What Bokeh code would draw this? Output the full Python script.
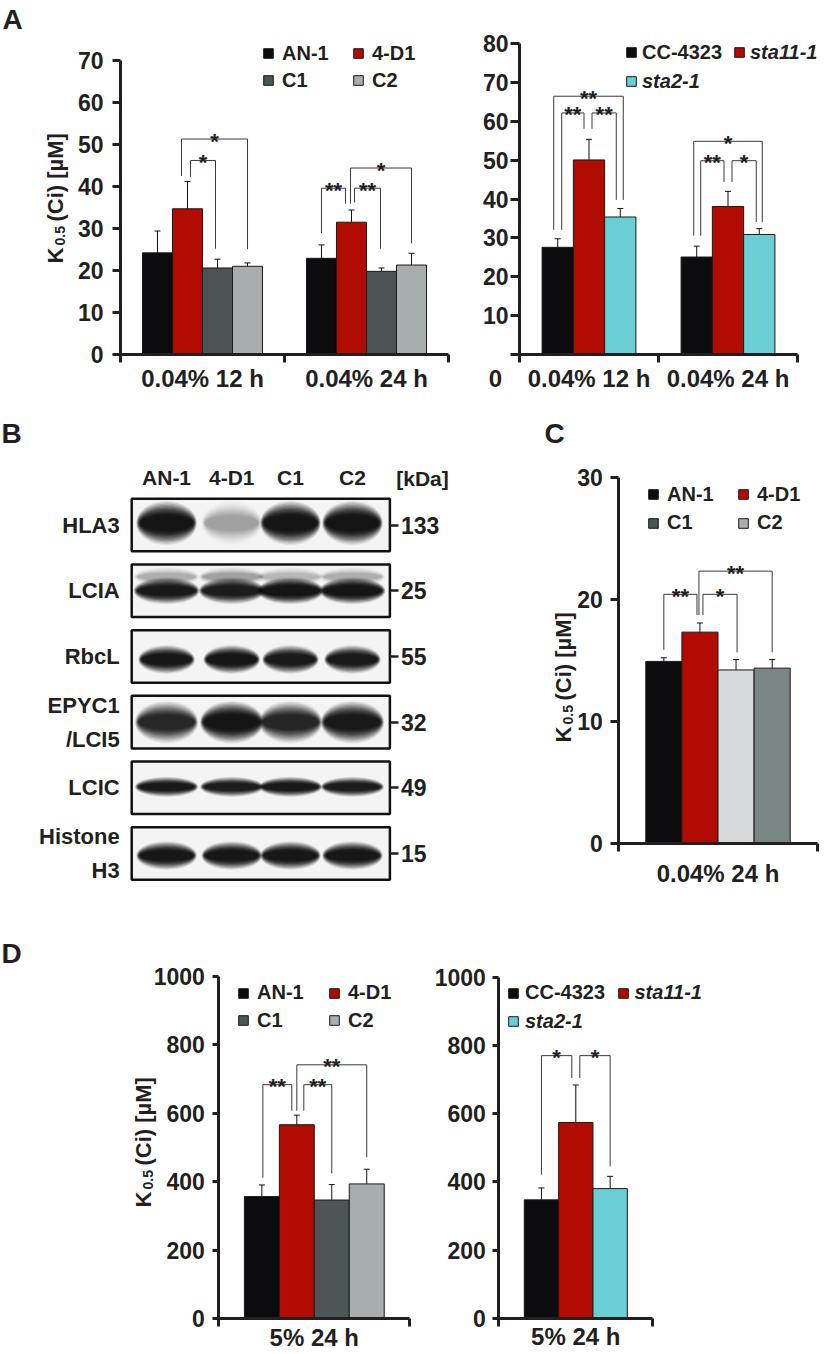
import math
from bokeh.plotting import figure
from bokeh.models import (Range1d, FixedTicker, LinearAxis, Legend, LegendItem,
                          Label, Whisker, TeeHead, ColumnDataSource)
from bokeh.layouts import column, row
from bokeh.embed import file_html
from bokeh.resources import INLINE
from bokeh.core.properties import value

FONT = "Liberation Sans"
INK = "#231f20"

# ------------------------------------------------------------------ data
# y-axis title pieces: K, subscript 0.5, remainder
ylabel_main, ylabel_sub, ylabel_rest = "K", "0.5", "(Ci) [\u00b5M]"

# Panel A (left)
a1_groups = ["0.04% 12 h", "0.04% 24 h"]
a1_series = ["AN-1", "4-D1", "C1", "C2"]
a1_means = [[24.2, 22.9], [34.7, 31.5], [20.6, 19.8], [21.0, 21.3]]
a1_sd = [[5.2, 3.2], [6.5, 2.9], [2.1, 0.8], [0.8, 2.8]]
a1_yticks = [0, 10, 20, 30, 40, 50, 60, 70]
# (group, bar a, bar b, bracket top, leg end over a, leg end over b, mark)
a1_sig = [(0, 1, 2, 46.2, 42.2, 25.2, "*"),
          (0, 1, 3, 51.3, 42.5, 25.1, "*"),
          (1, 0, 1, 39.6, 28.9, 35.9, "**"),
          (1, 1, 2, 39.6, 36.2, 25.2, "**"),
          (1, 1, 3, 44.4, 35.9, 26.5, "*")]

# Panel A (right)
a2_groups = ["0.04% 12 h", "0.04% 24 h"]
a2_series = ["CC-4323", "sta11-1", "sta2-1"]
a2_means = [[27.6, 25.1], [50.1, 38.1], [35.4, 30.9]]
a2_sd = [[2.2, 2.8], [5.3, 3.9], [2.2, 1.5]]
a2_yticks = [0, 10, 20, 30, 40, 50, 60, 70, 80]
a2_sig = [(0, 0, 2, 66.5, 32.1, 39.8, "**"),
          (0, 0, 1, 62.2, 32.1, 58.1, "**"),
          (0, 1, 2, 62.2, 58.1, 39.8, "**"),
          (1, 0, 2, 54.9, 30.6, 34.1, "*"),
          (1, 0, 1, 49.9, 30.6, 44.4, "**"),
          (1, 1, 2, 49.9, 44.4, 34.1, "*")]

# Panel B (immunoblot)
blot_lanes = ["AN-1", "4-D1", "C1", "C2"]
blot_proteins = ["HLA3", "LCIA", "RbcL", "EPYC1\n/LCI5", "LCIC", "Histone\nH3"]
blot_kda = ["133", "25", "55", "32", "49", "15"]
blot_signal = [[1.0, 0.15, 1.0, 1.0],
               [0.9, 0.85, 1.0, 1.0],
               [0.95, 1.0, 0.9, 0.9],
               [0.7, 1.0, 0.72, 0.9],
               [0.9, 0.85, 0.9, 0.85],
               [0.95, 0.95, 0.95, 0.95]]
blot_lcia_upper = [0.12, 0.16, 0.1, 0.12]

# Panel C
c_groups = ["0.04% 24 h"]
c_series = ["AN-1", "4-D1", "C1", "C2"]
c_means = [[14.9], [17.3], [14.2], [14.35]]
c_sd = [[0.3], [0.75], [0.85], [0.7]]
c_yticks = [0, 10, 20, 30]
c_sig = [(0, 0, 1, 20.4, 15.85, 18.7, "**"),
         (0, 1, 2, 20.4, 18.7, 15.65, "*"),
         (0, 1, 3, 22.3, 18.7, 15.65, "**")]

# Panel D (left)
d1_groups = ["5% 24 h"]
d1_series = ["AN-1", "4-D1", "C1", "C2"]
d1_means = [[357], [567], [347], [394]]
d1_sd = [[34], [28], [45], [43]]
d1_yticks = [0, 200, 400, 600, 800, 1000]
d1_sig = [(0, 0, 1, 684, 412, 608, "**"),
          (0, 1, 2, 684, 608, 425, "**"),
          (0, 1, 3, 742, 608, 472, "**")]

# Panel D (right)
d2_groups = ["5% 24 h"]
d2_series = ["CC-4323", "sta11-1", "sta2-1"]
d2_means = [[347], [574], [380]]
d2_sd = [[35], [110], [36]]
d2_yticks = [0, 200, 400, 600, 800, 1000]
d2_sig = [(0, 0, 1, 770, 421, 704, "*"),
          (0, 1, 2, 770, 704, 445, "*")]

# ------------------------------------------------------------------ styles
BLACK, RED, DGRAY, LGRAY, CYAN = "#0c0c0e", "#b20c02", "#4a5254", "#a8adad", "#6acfd5"
A_COLORS = [BLACK, RED, DGRAY, LGRAY]
S_COLORS = [BLACK, RED, CYAN]
C_BAR_COLORS = [BLACK, RED, "#d6d9d9", "#7a8585"]
TICK_FS = "23px"


def make_fig(origin, size, box, xr, yr):
    """Figure whose frame fills the whole canvas; box = pixel rectangle
    (L, T, R, B) at which the data values xr=(x@L, x@R), yr=(y@B, y@T) sit."""
    ox, oy = origin
    W, H = size
    L, T, R, B = box
    xpx = (R - L) / (xr[1] - xr[0])
    ypx = (B - T) / (yr[1] - yr[0])
    x0 = xr[0] - (L - ox) / xpx
    x1 = xr[0] + (ox + W - L) / xpx
    y0 = yr[0] - (oy + H - B) / ypx
    y1 = yr[0] + (B - oy) / ypx
    p = figure(width=W, height=H, x_range=Range1d(x0, x1), y_range=Range1d(y0, y1),
               output_backend="svg", toolbar_location=None,
               x_axis_location=None, y_axis_location=None,
               min_border_left=0, min_border_right=0, min_border_top=0, min_border_bottom=0)
    p.outline_line_color = None
    p.border_fill_color = "white"
    p.background_fill_color = "white"
    try:
        p.xgrid.visible = False
        p.ygrid.visible = False
    except Exception:
        pass

    def to_data(px, py):
        return xr[0] + (px - L) / xpx, yr[0] + (B - py) / ypx

    def to_screen_loc(px, py):
        return px - ox, oy + H - py

    return p, to_data, to_screen_loc, abs(xpx), abs(ypx)


def add_label(p, to_data, px, py, text, size, style="bold", align="center",
              baseline="middle", angle=0.0):
    x, y = to_data(px, py)
    p.add_layout(Label(x=x, y=y, text=text, angle=angle, text_font=FONT,
                       text_font_style=style, text_font_size=f"{size}px",
                       text_color=INK, text_align=align, text_baseline=baseline))


def add_ylabel(p, to_data, base_x, start_y):
    """Vertical axis title K_0.5 (Ci) [uM], reading upwards from start_y."""
    up = math.pi / 2
    add_label(p, to_data, base_x, start_y, ylabel_main, 22, align="left",
              baseline="alphabetic", angle=up)
    add_label(p, to_data, base_x + 4, start_y - 18, ylabel_sub, 14, align="left",
              baseline="alphabetic", angle=up)
    add_label(p, to_data, base_x, start_y - 42, ylabel_rest, 22, align="left",
              baseline="alphabetic", angle=up)


def bar_panel(origin, size, box, groups, series, means, sd, colors, yticks, sig, shifts,
              bar_w, leg_pos, leg_std, tick_out, tick_std, cat_std,
              italic=(), leg_colors=None, blank_zero=False):
    n, k = len(groups), len(series)
    p, to_data, to_loc, xpx, ypx = make_fig(origin, size, box, (0, n), (0, yticks[-1]))
    offs = [(i - (k - 1) / 2) * bar_w for i in range(k)]
    rends, wx, wu, wl = [], [], [], []
    for i in range(k):
        xs = [g + 0.5 + offs[i] for g in range(n)]
        r = p.vbar(x=xs, top=means[i], bottom=0, width=bar_w, fill_color=colors[i],
                   line_color="#1a1a1a", line_width=1)
        rends.append(r)
        wx += xs
        wu += [m + s for m, s in zip(means[i], sd[i])]
        wl += [m - s for m, s in zip(means[i], sd[i])]
    src = ColumnDataSource(dict(x=wx, upper=wu, lower=wl))
    p.add_layout(Whisker(source=src, base="x", upper="upper", lower="lower",
                         line_color="#111111", line_width=1,
                         upper_head=TeeHead(size=6, line_color="#111111", line_width=1),
                         lower_head=TeeHead(size=6, line_color="#111111", line_width=1)))
    # significance brackets
    bx, by, tx, ty, tt = [], [], [], [], []
    for (g, a, b, top, ya, yb, mark), (sa, sb) in zip(sig, shifts):
        xa = g + 0.5 + offs[a] + sa / xpx
        xb = g + 0.5 + offs[b] + sb / xpx
        bx.append([xa, xa, xb, xb])
        by.append([ya, top, top, yb])
        tx.append((xa + xb) / 2)
        ty.append(top - 2 / ypx)
        tt.append(mark)
    p.multi_line(bx, by, line_color="#3a3a3a", line_width=1)
    p.text(x=tx, y=ty, text=tt, text_align="center", text_baseline="alphabetic",
           text_font=value(FONT), text_font_style="bold", text_font_size="22px",
           text_color=INK)
    # legend entries, one Legend each so every swatch sits where the original has it
    for i, name in enumerate(series):
        r = rends[i]
        if leg_colors is not None and leg_colors[i] != colors[i]:
            # swatch colour differs from the bar colour in the original: a flat,
            # zero-height copy of the series (hidden under the x axis) carries it
            xs = [g + 0.5 + offs[i] for g in range(n)]
            r = p.vbar(x=xs, top=[0] * n, bottom=0, width=bar_w,
                       fill_color=leg_colors[i], line_color="#1a1a1a", line_width=1)
        sx, sy = leg_pos[i]
        lx, ly = to_loc(sx, sy)
        leg = Legend(items=[LegendItem(label=value(name), renderers=[r])],
                     location=(lx, ly - 12),
                     glyph_width=12, glyph_height=12, label_standoff=leg_std,
                     label_height=24, label_width=10, padding=0, margin=0, spacing=0,
                     border_line_color=None, background_fill_alpha=0,
                     label_text_font=FONT, label_text_color=INK,
                     label_text_font_style="bold italic" if name in italic else "bold",
                     label_text_font_size="20px")
        p.add_layout(leg)
    # axes, pinned at the data origin and bounded to the plotted extent
    overrides = {0: ""} if blank_zero else {}
    yax = LinearAxis(fixed_location=0, bounds=(0, yticks[-1]),
                     ticker=FixedTicker(ticks=yticks, minor_ticks=[]),
                     major_label_overrides=overrides,
                     axis_line_width=3, axis_line_color=INK,
                     major_tick_line_width=3, major_tick_line_color=INK,
                     major_tick_out=tick_out, major_tick_in=0,
                     minor_tick_line_color=None,
                     major_label_standoff=tick_std,
                     major_label_text_font=FONT, major_label_text_font_style="bold",
                     major_label_text_font_size=TICK_FS, major_label_text_color=INK)
    p.add_layout(yax, "left")
    centers = [g + 0.5 for g in range(n)]
    xax = LinearAxis(fixed_location=0, bounds=(0, n),
                     ticker=FixedTicker(ticks=centers, minor_ticks=list(range(n + 1))),
                     major_label_overrides={c: g for c, g in zip(centers, groups)},
                     axis_line_width=3, axis_line_color=INK,
                     major_tick_line_color=None, major_tick_out=0, major_tick_in=0,
                     minor_tick_line_color=INK, minor_tick_line_width=3,
                     minor_tick_out=8, minor_tick_in=0,
                     major_label_standoff=cat_std,
                     major_label_text_font=FONT, major_label_text_font_style="bold",
                     major_label_text_font_size="24px", major_label_text_color=INK)
    p.add_layout(xax, "below")
    return p, to_data


# ------------------------------------------------------------------ panel A
pa1, ta1 = bar_panel((0, 0), (460, 405), (120, 60, 448, 354), a1_groups, a1_series,
                     a1_means, a1_sd, A_COLORS, a1_yticks, a1_sig,
                     [(3, -2), (-6, 0), (0, -6), (3, -1), (-1, 0)],
                     0.183, [(262, 53), (352, 53), (262, 80), (352, 80)], 8,
                     tick_out=8, tick_std=9, cat_std=2)
add_label(pa1, ta1, 12, 19, "A", 28)
add_ylabel(pa1, ta1, 55, 263)

pa2, ta2 = bar_panel((460, 0), (366, 405), (519, 43.3, 797, 354), a2_groups, a2_series,
                     a2_means, a2_sd, S_COLORS, a2_yticks, a2_sig,
                     [(-4, 3), (4, -5), (3, -4), (-3, 3), (4, -4), (4, -3)],
                     0.225, [(625, 52), (733, 52), (625, 81)], 5,
                     tick_out=9, tick_std=2, cat_std=2,
                     italic=("sta11-1", "sta2-1"), blank_zero=True)
add_label(pa2, ta2, 495, 378, "0", 24)

# ------------------------------------------------------------------ panel B
pb, tb, lb, bxpx, bypx = make_fig((0, 405), (450, 520), (131.2, 498.3, 389.4, 879.3),
                                  (0, 4), (5.4, -0.4))
lane_x = [0.54, 1.55, 2.46, 3.42]
rows_i = list(range(len(blot_proteins)))
pb.rect(x=[2] * len(rows_i), y=rows_i, width=4, height=0.8,
        fill_color="#f4f4f4", line_color=None)
band_w = [0.9, 0.98, 0.84, 0.94, 0.94, 0.9]
band_h = [26, 16, 17, 25, 12, 17]
band_dy = [-2, 0, 3, 0, -1, 2]
layers = [(1.05 - 0.012 * t, 1.7 - 0.1 * t, 0.08 + 0.025 * t) for t in range(12)]
ex, ey, ew, eh, ea = [], [], [], [], []
for ri in rows_i:
    bands = [(li, blot_signal[ri][li], band_h[ri], band_dy[ri]) for li in range(4)]
    if ri == 1:
        bands += [(li, blot_lcia_upper[li], 12, -14) for li in range(4)]
    for li, sig_v, h, dy in bands:
        for sw, sh, al in layers:
            ex.append(lane_x[li])
            ey.append(ri + dy / bypx)
            ew.append(band_w[ri] * sw)
            eh.append(h * sh / bypx)
            ea.append(min(1.0, al * sig_v))
pb.ellipse(x=ex, y=ey, width=ew, height=eh, fill_color="#0b0b0b", fill_alpha=ea,
           line_color=None)
pb.rect(x=[2] * len(rows_i), y=rows_i, width=4, height=0.8,
        fill_color=None, line_color="#111111", line_width=2.5)

ax_l = LinearAxis(fixed_location=0, bounds=(-0.4, 5.4),
                  ticker=FixedTicker(ticks=rows_i, minor_ticks=[]),
                  major_label_overrides={i: t for i, t in enumerate(blot_proteins)},
                  axis_line_color=None, major_tick_line_color=None, minor_tick_line_color=None,
                  major_tick_out=0, major_tick_in=0, major_label_standoff=12,
                  major_label_text_font=FONT, major_label_text_font_style="bold",
                  major_label_text_font_size="22px", major_label_text_color=INK,
                  major_label_text_line_height=1.35)
pb.add_layout(ax_l, "left")
ax_r = LinearAxis(fixed_location=4, bounds=(-0.4, 5.4),
                  ticker=FixedTicker(ticks=rows_i, minor_ticks=[]),
                  major_label_overrides={i: t for i, t in enumerate(blot_kda)},
                  axis_line_color=None, major_tick_line_color=INK, major_tick_line_width=2.5,
                  minor_tick_line_color=None,
                  major_tick_out=9, major_tick_in=0, major_label_standoff=2,
                  major_label_text_font=FONT, major_label_text_font_style="bold",
                  major_label_text_font_size="23px", major_label_text_color=INK)
pb.add_layout(ax_r, "right")
ax_t = LinearAxis(fixed_location=-0.4, bounds=(0, 4),
                  ticker=FixedTicker(ticks=lane_x, minor_ticks=[]),
                  major_label_overrides={x: t for x, t in zip(lane_x, blot_lanes)},
                  axis_line_color=None, major_tick_line_color=None, minor_tick_line_color=None,
                  major_tick_out=0, major_tick_in=0, major_label_standoff=10,
                  major_label_text_font=FONT, major_label_text_font_style="bold",
                  major_label_text_font_size="21px", major_label_text_color=INK)
pb.add_layout(ax_t, "above")
add_label(pb, tb, 422, 478, "[kDa]", 21)
add_label(pb, tb, 11, 433, "B", 28)

# ------------------------------------------------------------------ panel C
pc, tc = bar_panel((450, 405), (376, 520), (618.3, 476.7, 816.7, 842.7), c_groups, c_series,
                   c_means, c_sd, C_BAR_COLORS, c_yticks, c_sig,
                   [(0, -3), (3, 1), (-1, 0)],
                   0.182, [(647, 494), (737, 494), (647, 522.5), (737, 522.5)], 8,
                   tick_out=8, tick_std=8, cat_std=9, leg_colors=A_COLORS)
add_label(pc, tc, 554, 433, "C", 28)
add_ylabel(pc, tc, 563, 742)

# ------------------------------------------------------------------ panel D
pd1, td1 = bar_panel((0, 925), (420, 429), (218.3, 976, 409.3, 1318.3), d1_groups, d1_series,
                     d1_means, d1_sd, [BLACK, RED, "#4e5557", LGRAY], d1_yticks, d1_sig,
                     [(1, -5), (7, 0), (0, 0)],
                     0.183, [(237, 992.5), (328, 992.5), (237, 1020), (328, 1020)], 8,
                     tick_out=6, tick_std=8, cat_std=-3)
add_label(pd1, td1, 11, 953, "D", 28)
add_ylabel(pd1, td1, 143, 1207)

pd2, td2 = bar_panel((420, 925), (406, 429), (498.3, 976.7, 652.3, 1317.7), d2_groups, d2_series,
                     d2_means, d2_sd, S_COLORS, d2_yticks, d2_sig,
                     [(0, -4), (4, 0)],
                     0.223, [(507, 992.5), (616.5, 992.5), (507, 1021)], 6,
                     tick_out=6, tick_std=7, cat_std=-3,
                     italic=("sta11-1", "sta2-1"))

layout = column(row(pa1, pa2), row(pb, pc), row(pd1, pd2))
open("out.html", "w").write(file_html(layout, INLINE))
